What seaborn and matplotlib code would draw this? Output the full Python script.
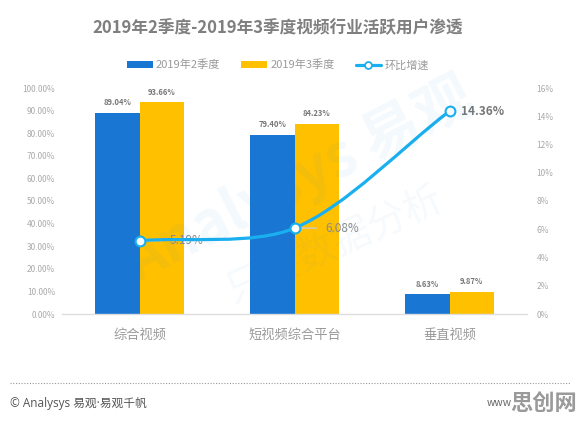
import numpy as np
import pandas as pd
import matplotlib
matplotlib.use("Agg")
import matplotlib.pyplot as plt
import seaborn as sns
from matplotlib.patches import Patch, PathPatch
from matplotlib.lines import Line2D
from matplotlib.path import Path

# ---------------- data ----------------
categories = ["综合视频", "短视频综合平台", "垂直视频"]
series_names = ["2019年2季度", "2019年3季度"]
q2_values = [89.04, 79.40, 8.63]
q3_values = [93.66, 84.23, 9.87]
growth_name = "环比增速"
growth_values = [5.19, 6.08, 14.36]
left_ticks = [0, 10, 20, 30, 40, 50, 60, 70, 80, 90, 100]
right_ticks = [0, 2, 4, 6, 8, 10, 12, 14, 16]
title = "2019年2季度-2019年3季度视频行业活跃用户渗透"
footer_left = "© Analysys 易观·易观千帆"

BLUE = "#1976D2"
YELLOW = "#FFC000"
LINE = "#1AAFEF"

sns.set_theme(style="white")
plt.rcParams["font.family"] = ["Noto Sans CJK SC", "DejaVu Sans"]

W, H = 578, 422
fig = plt.figure(figsize=(W / 100, H / 100), dpi=100)
ax = fig.add_axes([62 / W, 1 - 314 / H, 465 / W, 226 / H])

df = pd.DataFrame({
    "cat": categories * 2,
    "val": q2_values + q3_values,
    "series": [series_names[0]] * 3 + [series_names[1]] * 3,
})
sns.barplot(data=df, x="cat", y="val", hue="series", order=categories,
            hue_order=series_names, palette=[BLUE, YELLOW], width=0.57,
            saturation=1, ax=ax, legend=False, edgecolor="none", linewidth=0)

for cont in ax.containers:
    ax.bar_label(cont, labels=[f"{b.get_height():.2f}%" for b in cont],
                 padding=4, fontsize=5.5, color="#777777", fontweight="bold")

ax.set_xlim(-0.5, 2.5)
ax.set_ylim(0, 100)
ax.set_yticks(left_ticks)
ax.set_yticklabels([f"{v:.2f}%" for v in left_ticks])
ax.set_xlabel("")
ax.set_ylabel("")
for s in ["left", "right", "top"]:
    ax.spines[s].set_visible(False)
ax.spines["bottom"].set_color("#dddddd")
ax.spines["bottom"].set_linewidth(1)
ax.tick_params(axis="y", length=0, pad=5, labelsize=6, labelcolor="#aaaaaa")
ax.tick_params(axis="x", length=0, pad=11, labelsize=9.5, labelcolor="#9a9a9a")

ax2 = ax.twinx()
ax2.set_ylim(0, 16)
ax2.set_yticks(right_ticks)
ax2.set_yticklabels([f"{v}%" for v in right_ticks])
for s in ax2.spines.values():
    s.set_visible(False)
ax2.tick_params(axis="y", length=0, pad=7, labelsize=6, labelcolor="#aaaaaa")
ax2.grid(False)
ax.grid(False)

# smooth curve through the growth points (Bezier control points from the data)
xs = np.arange(len(categories), dtype=float)
pts = ax2.transData.transform(np.column_stack([xs, growth_values]))
smooth = 0.3
n = len(pts)
cps = []
for i in range(n):
    p = pts[i]
    prev = pts[i - 1] if i > 0 else p
    nxt = pts[i + 1] if i < n - 1 else p
    v = nxt - prev
    d0 = np.linalg.norm(p - prev)
    d1 = np.linalg.norm(p - nxt)
    s_ = d0 + d1
    if s_ > 0:
        d0 /= s_
        d1 /= s_
    cps.append((p - v * smooth * d0, p + v * smooth * d1))
verts = [pts[0]]
codes = [Path.MOVETO]
for i in range(n - 1):
    verts += [cps[i][1], cps[i + 1][0], pts[i + 1]]
    codes += [Path.CURVE4] * 3
verts = ax2.transData.inverted().transform(np.array(verts))
ax2.add_patch(PathPatch(Path(verts, codes), fill=False, edgecolor=LINE,
                        lw=2.3, zorder=4, capstyle="round"))
sns.scatterplot(x=xs, y=growth_values, ax=ax2, s=50, color="white",
                edgecolor=LINE, linewidth=1.5, zorder=5)

for i, g in enumerate(growth_values):
    if i < n - 1:
        ax2.annotate(f"{g:.2f}%", xy=(xs[i], g), xytext=(22, 0),
                     textcoords="offset points", va="center", ha="left",
                     fontsize=8.5, color="#8a8a8a",
                     arrowprops=dict(arrowstyle="-", color="#cccccc", lw=1,
                                     shrinkA=4, shrinkB=0))
    else:
        ax2.annotate(f"{g:.2f}%", xy=(xs[i], g), xytext=(8, 0),
                     textcoords="offset points", va="center", ha="left",
                     fontsize=8.5, color="#777777", fontweight="bold")

# watermark
fig.text(300 / W, 1 - 180 / H, "Analysys 易观", fontsize=42, fontweight="bold",
         color="#1a8fe0", alpha=0.05, rotation=27, ha="center", va="center",
         zorder=10)
fig.text(335 / W, 1 - 245 / H, "只要数据分析", fontsize=28, color="#1a8fe0",
         alpha=0.045, rotation=24, ha="center", va="center", zorder=10)

# title
fig.text(278 / W, 1 - 28 / H, title, fontsize=12, fontweight="bold",
         color="#7f7f7f", ha="center", va="center")

# legend
handles = [
    Patch(facecolor=BLUE, edgecolor="none", label=series_names[0]),
    Patch(facecolor=YELLOW, edgecolor="none", label=series_names[1]),
    Line2D([0], [0], color=LINE, lw=2.3, marker="o", markersize=5,
           markerfacecolor="white", markeredgecolor=LINE, markeredgewidth=1.3,
           label=growth_name),
]
leg = fig.legend(handles=handles, loc="center", bbox_to_anchor=(278 / W, 1 - 65 / H),
                 ncol=3, frameon=False, fontsize=8, handlelength=2.3,
                 handleheight=0.55, handletextpad=0.3, columnspacing=1.9)
for t in leg.get_texts():
    t.set_color("#9a9a9a")

# footer
fig.add_artist(Line2D([10 / W, 570 / W], [1 - 383 / H, 1 - 383 / H],
                      transform=fig.transFigure, color="#999999", lw=0.8,
                      linestyle=(0, (1, 1.5))))
fig.text(10 / W, 1 - 403 / H, footer_left, fontsize=8.5, color="#555555",
         ha="left", va="center", family=["Open Sans", "Noto Sans CJK SC"])
fig.text(512 / W, 1 - 403 / H, "www", fontsize=7.5, color="#666666",
         ha="right", va="center")
fig.text(577 / W, 1 - 403 / H, "思创网", fontsize=16, fontweight="bold",
         color="#9a9a9a", ha="right", va="center")

fig.savefig("out.png", dpi=100)
